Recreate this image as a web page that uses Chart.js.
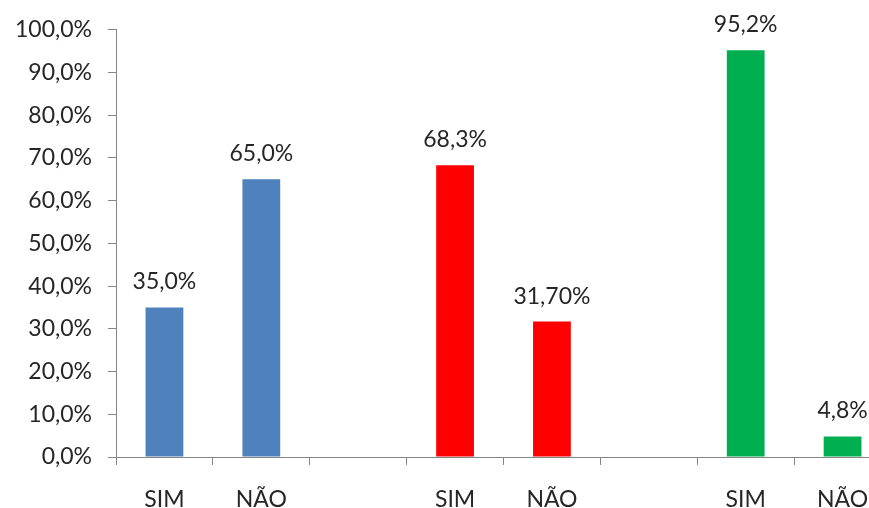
<!DOCTYPE html>
<html>
<head>
<meta charset="utf-8">
<script src="https://cdn.jsdelivr.net/npm/chart.js@4/dist/chart.umd.min.js"></script>
<style>
html,body{margin:0;padding:0;background:#fff;overflow:hidden;}
#wrap{width:892px;height:540px;}
</style>
</head>
<body>
<div id="wrap"><canvas id="c" width="892" height="540"></canvas></div>
<script>
const categories = ['SIM', 'NÃO', '', 'SIM', 'NÃO', '', 'SIM', 'NÃO'];
const values = [35.0, 65.0, null, 68.3, 31.7, null, 95.2, 4.8];
const valueLabels = ['35,0%', '65,0%', '', '68,3%', '31,70%', '', '95,2%', '4,8%'];
const barColors = ['#4F81BD', '#4F81BD', '#4F81BD', '#FF0000', '#FF0000', '#FF0000', '#00B050', '#00B050'];
const yTicks = [0, 10, 20, 30, 40, 50, 60, 70, 80, 90, 100];

const FONT = 'Lato, "Open Sans", sans-serif';
const TEXT = '#262626';
const FSIZE = 23;

const labelPlugin = {
  id: 'valueLabels',
  afterDatasetsDraw(chart) {
    const ctx = chart.ctx;
    const meta = chart.getDatasetMeta(0);
    ctx.save();
    ctx.font = FSIZE + 'px ' + FONT;
    ctx.fillStyle = TEXT;
    ctx.textAlign = 'center';
    ctx.textBaseline = 'alphabetic';
    meta.data.forEach((bar, i) => {
      if (values[i] == null) return;
      ctx.fillText(valueLabels[i], bar.x, bar.y - 18);
    });
    ctx.restore();
  }
};

new Chart(document.getElementById('c'), {
  type: 'bar',
  data: {
    labels: categories,
    datasets: [{
      data: values,
      backgroundColor: barColors,
      borderWidth: 0,
      categoryPercentage: 1.0,
      barPercentage: 0.39
    }]
  },
  options: {
    responsive: false,
    animation: false,
    layout: { padding: { top: 29, left: 0, right: 1, bottom: 0 } },
    plugins: { legend: { display: false }, tooltip: { enabled: false } },
    scales: {
      x: {
        grid: { display: true, offset: true, drawOnChartArea: false, drawTicks: true, tickLength: 8, color: '#868686', lineWidth: 1 },
        border: { display: true, color: '#868686', width: 1 },
        ticks: { color: TEXT, font: { family: FONT, size: FSIZE }, padding: 21, maxRotation: 0, autoSkip: false },
        afterFit(s) { s.height = 83; }
      },
      y: {
        min: 0, max: 100,
        afterBuildTicks(s) { s.ticks = yTicks.map(v => ({ value: v })); },
        grid: { display: true, drawOnChartArea: false, drawTicks: true, tickLength: 8, color: '#868686', lineWidth: 1 },
        border: { display: true, color: '#868686', width: 1 },
        ticks: {
          color: TEXT, font: { family: FONT, size: FSIZE }, padding: 16,
          callback: v => v.toFixed(1).replace('.', ',') + '%'
        },
        afterFit(s) { s.width = 116; }
      }
    }
  },
  plugins: [labelPlugin]
});
</script>
</body>
</html>
